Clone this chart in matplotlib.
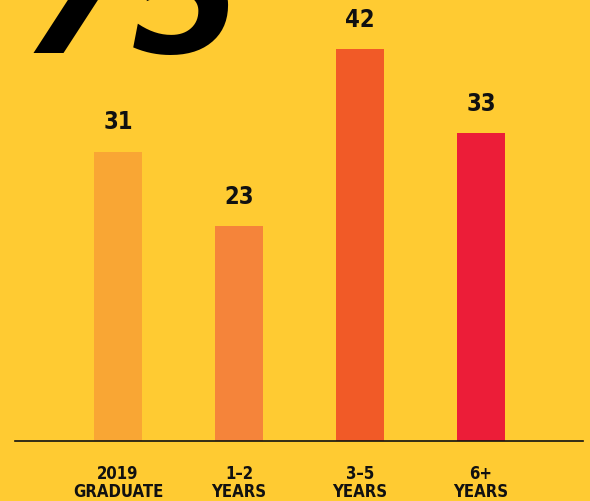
import matplotlib.pyplot as plt

categories = ['2019\nGRADUATE', '1\u20132\nYEARS', '3\u20135\nYEARS', '6+\nYEARS']
values = [31, 23, 42, 33]
value_labels = ['31', '23', '42', '33']
big_number = '75'

bg = '#FFCB32'
bar_colors = ['#F9A634', '#F5843A', '#F15A27', '#EC1D38']

plt.rcParams['font.family'] = ['DejaVu Sans']
plt.rcParams['font.stretch'] = 'condensed'

fig = plt.figure(figsize=(5.9, 5.01), dpi=100, facecolor=bg)
ax = fig.add_axes([15 / 590, 1 - 441 / 501, 568 / 590, 441 / 501])
ax.set_facecolor(bg)

x = list(range(len(values)))
ax.bar(x, values, width=0.397, color=bar_colors, zorder=2)

for xi, v, lab in zip(x, values, value_labels):
    ax.annotate(lab, (xi, v), xytext=(0, 16), textcoords='offset points',
                ha='center', va='baseline', fontsize=17, fontweight='bold', color='#111111')

ax.set_xlim(-0.851, 3.843)
ax.set_ylim(0, 47.25)
for s in ['top', 'right', 'left']:
    ax.spines[s].set_visible(False)
ax.spines['bottom'].set_color('#111111')
ax.spines['bottom'].set_linewidth(1.2)
ax.set_yticks([])
ax.set_xticks(x)
ax.set_xticklabels(categories, fontsize=12, fontweight='bold', color='#111111', linespacing=1.05)
ax.tick_params(axis='x', length=0, pad=17)

# big headline number, cut off by the top of the figure
fig.text(0.035, 1 - 53 / 501, big_number, fontsize=115, fontweight='bold', fontstyle='italic',
         fontstretch='normal', ha='left', va='baseline', color='black')

fig.savefig('out.png', dpi=100, facecolor=bg)
